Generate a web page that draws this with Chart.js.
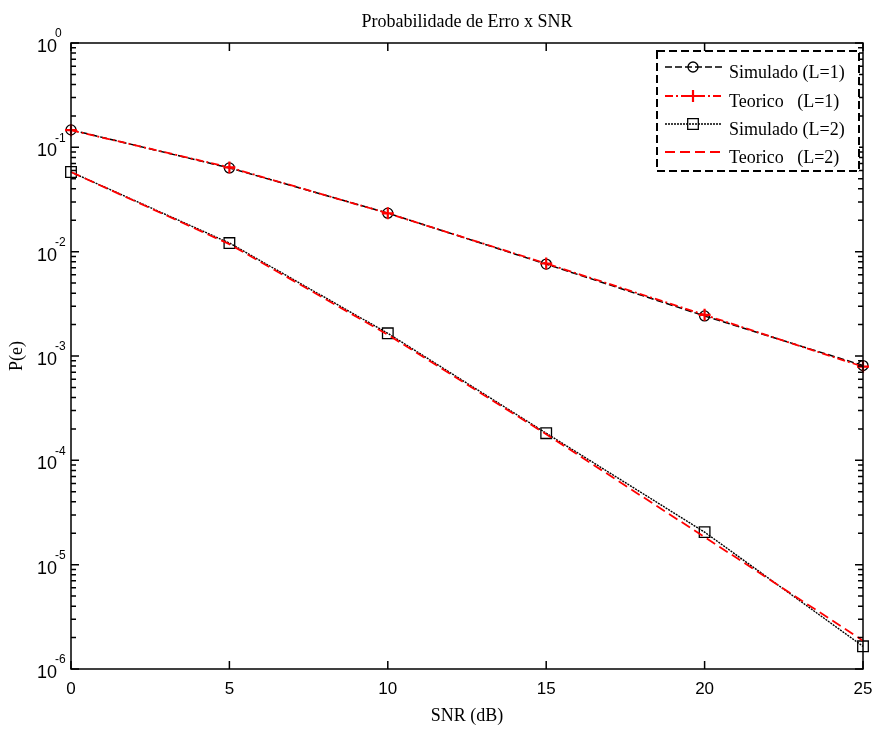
<!DOCTYPE html>
<html>
<head>
<meta charset="utf-8">
<script src="https://cdn.jsdelivr.net/npm/chart.js@4"></script>
<style>
  body { margin: 0; background: #fff; }
  canvas { display: block; }
</style>
</head>
<body>
<canvas id="chart" width="876" height="729"></canvas>
<script>
// data
var snr = [0, 5, 10, 15, 20, 25];
var simL1 = [0.147, 0.0635, 0.0234, 0.0076, 0.00242, 0.00081];
var teoL1 = [0.146, 0.0642, 0.0233, 0.0077, 0.00248, 0.00079];
var simL2 = [0.058, 0.0121, 0.00165, 0.000182, 0.0000205, 0.00000165];
var teoL2 = [0.058, 0.0118, 0.0016, 0.000178, 0.0000184, 0.00000187];
var xTicks = [0, 5, 10, 15, 20, 25];
var yExponents = [0, -1, -2, -3, -4, -5, -6];
var seriesNames = ['Simulado (L=1)', 'Teorico   (L=1)', 'Simulado (L=2)', 'Teorico   (L=2)'];

function pts(ys) {
    return snr.map(function (x, i) { return { x: x, y: ys[i] }; });
}

var serif = '"Liberation Serif", "Times New Roman", serif';
var sans = '"Liberation Sans", Arial, sans-serif';

var matlabAxes = {
    id: 'matlabAxes',
    afterDraw: function (chart) {
        var ctx = chart.ctx, a = chart.chartArea;
        var xs = chart.scales.x, ys = chart.scales.y;
        ctx.save();

        // frame
        ctx.strokeStyle = '#000';
        ctx.lineWidth = 1.5;
        ctx.strokeRect(a.left, a.top, a.right - a.left, a.bottom - a.top);

        // x ticks (bottom + top, inward)
        ctx.fillStyle = '#000';
        ctx.font = '17px ' + sans;
        ctx.textAlign = 'center';
        ctx.textBaseline = 'middle';
        xTicks.forEach(function (v) {
            var px = xs.getPixelForValue(v);
            ctx.beginPath();
            ctx.moveTo(px, a.bottom); ctx.lineTo(px, a.bottom - 8);
            ctx.moveTo(px, a.top); ctx.lineTo(px, a.top + 8);
            ctx.stroke();
            ctx.fillText(String(v), px, a.bottom + 20);
        });

        // y ticks: decades + minor
        yExponents.forEach(function (e) {
            var py = ys.getPixelForValue(Math.pow(10, e));
            ctx.beginPath();
            ctx.moveTo(a.left, py); ctx.lineTo(a.left + 8, py);
            ctx.moveTo(a.right, py); ctx.lineTo(a.right - 8, py);
            ctx.stroke();
            if (e < 0) {
                for (var m = 2; m <= 9; m++) {
                    var pm = ys.getPixelForValue(m * Math.pow(10, e));
                    ctx.beginPath();
                    ctx.moveTo(a.left, pm); ctx.lineTo(a.left + 5, pm);
                    ctx.moveTo(a.right, pm); ctx.lineTo(a.right - 5, pm);
                    ctx.stroke();
                }
            }
            ctx.textAlign = 'left';
            ctx.font = '18px ' + sans;
            ctx.fillText('10', 37, py + 4);
            ctx.font = '12px ' + sans;
            ctx.fillText(String(e), 55, py - 9);
        });

        // title and axis labels
        ctx.textAlign = 'center';
        ctx.font = '18px ' + serif;
        ctx.fillText('Probabilidade de Erro x SNR', (a.left + a.right) / 2, 22);
        ctx.fillText('SNR (dB)', (a.left + a.right) / 2, 716);
        ctx.save();
        ctx.translate(17, (a.top + a.bottom) / 2);
        ctx.rotate(-Math.PI / 2);
        ctx.fillText('P(e)', 0, 0);
        ctx.restore();

        // legend box
        var bx = 657, by = 51, bw = 202, bh = 120;
        ctx.fillStyle = '#fff';
        ctx.fillRect(bx, by, bw, bh);
        ctx.strokeStyle = '#000';
        ctx.lineWidth = 2;
        ctx.setLineDash([8, 4]);
        ctx.strokeRect(bx, by, bw, bh);
        ctx.setLineDash([]);

        var rows = [67, 96, 124, 152];
        chart.data.datasets.forEach(function (ds, i) {
            var ly = rows[i];
            ctx.strokeStyle = ds.borderColor;
            ctx.lineWidth = ds.borderWidth;
            ctx.setLineDash(ds.borderDash || []);
            ctx.beginPath();
            ctx.moveTo(665, ly); ctx.lineTo(722, ly);
            ctx.stroke();
            ctx.setLineDash([]);
            if (ds.pointRadius > 0) {
                ctx.fillStyle = 'rgba(0,0,0,0)';
                ctx.strokeStyle = ds.pointBorderColor;
                ctx.lineWidth = ds.pointBorderWidth;
                Chart.helpers.drawPoint(ctx, {
                    pointStyle: ds.pointStyle, radius: ds.pointRadius,
                    borderWidth: ds.pointBorderWidth, rotation: 0
                }, 693, ly);
            }
            ctx.fillStyle = '#000';
            ctx.font = '18px ' + serif;
            ctx.textAlign = 'left';
            ctx.textBaseline = 'middle';
            ctx.fillText(ds.label, 729, ly + 6);
        });

        ctx.restore();
    }
};

new Chart(document.getElementById('chart').getContext('2d'), {
    type: 'line',
    data: {
        datasets: [{
            label: seriesNames[0],
            data: pts(simL1),
            borderColor: '#000',
            borderWidth: 1.5,
            borderDash: [7, 3],
            pointStyle: 'circle',
            pointRadius: 5,
            pointBorderColor: '#000',
            pointBackgroundColor: 'rgba(0,0,0,0)',
            pointBorderWidth: 1.3,
            order: 4
        }, {
            label: seriesNames[1],
            data: pts(teoL1),
            borderColor: '#ff0000',
            borderWidth: 1.8,
            borderDash: [8, 3, 2, 3],
            pointStyle: 'cross',
            pointRadius: 6,
            pointBorderColor: '#ff0000',
            pointBackgroundColor: 'rgba(0,0,0,0)',
            pointBorderWidth: 2.2,
            order: 3
        }, {
            label: seriesNames[2],
            data: pts(simL2),
            borderColor: '#000',
            borderWidth: 1.4,
            borderDash: [2, 1],
            pointStyle: 'rect',
            pointRadius: 7.5,
            pointBorderColor: '#000',
            pointBackgroundColor: 'rgba(0,0,0,0)',
            pointBorderWidth: 1.3,
            order: 2
        }, {
            label: seriesNames[3],
            data: pts(teoL2),
            borderColor: '#ff0000',
            borderWidth: 1.8,
            borderDash: [10, 5],
            pointRadius: 0,
            pointBorderWidth: 0,
            order: 1
        }]
    },
    options: {
        responsive: false,
        animation: false,
        devicePixelRatio: 1,
        clip: false,
        layout: {
            padding: { left: 71, right: 13, top: 43, bottom: 60 }
        },
        plugins: {
            legend: { display: false },
            tooltip: { enabled: false }
        },
        elements: { line: { tension: 0, fill: false } },
        scales: {
            x: { type: 'linear', min: 0, max: 25, display: false },
            y: { type: 'logarithmic', min: 1e-6, max: 1, display: false }
        }
    },
    plugins: [matlabAxes]
});
</script>
</body>
</html>
